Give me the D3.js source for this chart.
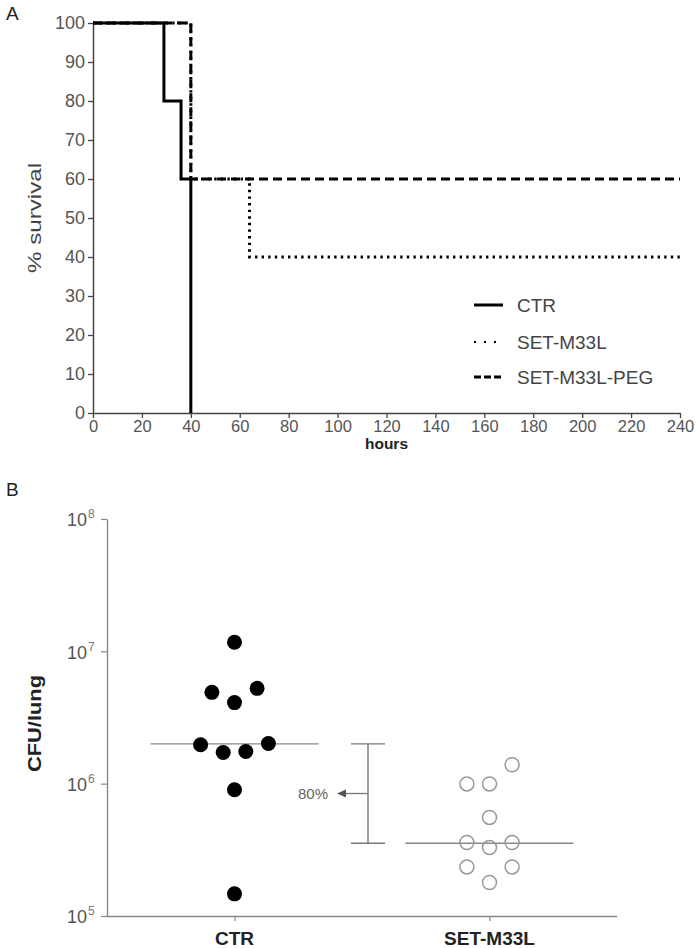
<!DOCTYPE html>
<html><head><meta charset="utf-8">
<script src="https://cdn.jsdelivr.net/npm/d3@7"></script>
<style>
html,body{margin:0;padding:0;background:#fff;}
svg{display:block;font-family:"Liberation Sans",Arial,sans-serif;}
</style></head>
<body>
<svg id="c" width="700" height="948"></svg>
<script>
// ---- Panel A data (Kaplan-Meier steps) ----
const ctrHours = [0, 29, 36, 40];
const ctrSurvival = [100, 80, 60, 0];
const setHours = [0, 40, 64, 240];
const setSurvival = [100, 60, 40, 40];
const pegHours = [0, 40, 240];
const pegSurvival = [100, 60, 60];
const seriesNames = ["CTR", "SET-M33L", "SET-M33L-PEG"];
const hourTicks = [0,20,40,60,80,100,120,140,160,180,200,220,240];
const survivalTicks = [0,10,20,30,40,50,60,70,80,90,100];

// ---- Panel B data (CFU/lung) ----
const groups = ["CTR", "SET-M33L"];
const ctrCFU = [1.17e7, 4.9e6, 4.1e6, 5.25e6, 1.97e6, 1.72e6, 1.75e6, 2.01e6, 9.0e5, 1.47e5];
const ctrSlot = [0, -2, 0, 2, -3, -1, 1, 3, 0, 0];
const setCFU = [1.39e6, 9.95e5, 9.95e5, 5.56e5, 3.59e5, 3.29e5, 3.59e5, 2.35e5, 2.35e5, 1.79e5];
const setSlot = [2, -2, 0, 0, -2, 0, 2, -2, 2, 0];
const medians = [2.0e6, 3.55e5];
const cfuTicks = [1e5, 1e6, 1e7, 1e8];
const reductionLabel = "80%";

const svg = d3.select("#c");

// ================= Panel A =================
const xA = d3.scaleLinear().domain([0, 240]).range([93, 680]);
const yA = d3.scaleLinear().domain([0, 100]).range([413, 23]);
const gA = svg.append("g");

svg.append("text").attr("x", 6).attr("y", 20).attr("font-size", 19).attr("fill", "#222").text("A");

const axA_x = gA.append("g").attr("transform", `translate(0,${yA(0)})`)
  .call(d3.axisBottom(xA).tickValues(hourTicks).tickSize(5).tickPadding(2).tickSizeOuter(0));
const axA_y = gA.append("g").attr("transform", `translate(${xA(0)},0)`)
  .call(d3.axisLeft(yA).tickValues(survivalTicks).tickSize(5).tickPadding(3).tickSizeOuter(0));
[axA_x, axA_y].forEach(a => {
  a.select(".domain").attr("stroke", "#444").attr("stroke-width", 1.5);
  a.selectAll(".tick line").attr("stroke", "#444").attr("stroke-width", 1.3);
  a.selectAll(".tick text").attr("fill", "#555").attr("font-size", 16.5)
    .attr("font-family", '"Liberation Sans",Arial,sans-serif');
});
axA_y.selectAll(".tick text").attr("font-size", 18);

gA.append("text").attr("x", xA(120)).attr("y", 449).attr("text-anchor", "middle")
  .attr("font-size", 15.5).attr("font-weight", "bold").attr("fill", "#222").text("hours");
gA.append("text").attr("transform", `translate(41,${yA(50)}) rotate(-90)`).attr("text-anchor", "middle")
  .attr("font-size", 19).attr("fill", "#444").attr("textLength", 110).attr("lengthAdjust", "spacingAndGlyphs")
  .text("% survival");

const stepLine = d3.line().curve(d3.curveStepAfter).x(d => xA(d[0])).y(d => yA(d[1]));
const styles = [
  {w: 3, dash: null},
  {w: 3, dash: "2.4,4.2"},
  {w: 3, dash: "9,5"}
];
const seriesData = [
  d3.zip(ctrHours, ctrSurvival),
  d3.zip(setHours, setSurvival),
  d3.zip(pegHours, pegSurvival)
];
[1, 2, 0].forEach(i => {
  gA.append("path").attr("d", stepLine(seriesData[i])).attr("fill", "none")
    .attr("stroke", "#000").attr("stroke-width", styles[i].w)
    .attr("stroke-dasharray", styles[i].dash);
});

// legend
const legY = [305, 342, 377];
seriesNames.forEach((n, i) => {
  gA.append("line").attr("x1", 474).attr("x2", 503).attr("y1", legY[i]).attr("y2", legY[i])
    .attr("stroke", "#000").attr("stroke-width", i === 1 ? 2.2 : styles[i].w)
    .attr("stroke-dasharray", styles[i].dash ? (i === 1 ? "2,8" : "7,3") : null);
  gA.append("text").attr("x", 517).attr("y", legY[i]).attr("dy", "0.35em")
    .attr("font-size", 19).attr("fill", "#444").text(n);
});

// ================= Panel B =================
const xB = d3.scalePoint().domain(groups).range([107, 617]).padding(0.5);
const yB = d3.scaleLog().domain([1e5, 1e8]).range([916, 519]);
const gB = svg.append("g");
svg.append("text").attr("x", 6).attr("y", 496).attr("font-size", 19).attr("fill", "#222").text("B");

const axB_y = gB.append("g").attr("transform", `translate(107,0)`)
  .call(d3.axisLeft(yB).tickValues(cfuTicks).tickSize(6).tickFormat(() => "").tickSizeOuter(0));
const axB_x = gB.append("g").attr("transform", `translate(0,916)`)
  .call(d3.axisBottom(xB).tickSize(5).tickFormat(() => "").tickSizeOuter(0));
[axB_x, axB_y].forEach(a => {
  a.select(".domain").attr("stroke", "#888").attr("stroke-width", 1.4);
  a.selectAll(".tick line").attr("stroke", "#888").attr("stroke-width", 1.2);
});
axB_x.select(".domain").attr("d", "M107,0.5H617");

// y tick labels 10^n
cfuTicks.forEach(t => {
  const e = Math.round(Math.log10(t));
  gB.append("text").attr("x", 87).attr("y", yB(t)).attr("dy", "0.4em")
    .attr("text-anchor", "end").attr("font-size", 18).attr("fill", "#555").text("10");
  gB.append("text").attr("x", 88).attr("y", yB(t)).attr("dy", "-0.05em")
    .attr("font-size", 12).attr("fill", "#777").text(e);
});

// x labels
groups.forEach(g => {
  gB.append("text").attr("x", xB(g)).attr("y", 945).attr("text-anchor", "middle")
    .attr("font-size", 19).attr("font-weight", "bold").attr("fill", "#222").text(g);
});

gB.append("text").attr("transform", `translate(41,${(yB(1e6)+yB(1e7))/2+6}) rotate(-90)`)
  .attr("text-anchor", "middle").attr("font-size", 18).attr("font-weight", "bold").attr("fill", "#222")
  .attr("textLength", 97).attr("lengthAdjust", "spacingAndGlyphs").text("CFU/lung");

// medians
const halfLen = 84, slotW = 11.3;
groups.forEach((g, i) => {
  gB.append("line").attr("x1", xB(g) - halfLen).attr("x2", xB(g) + halfLen)
    .attr("y1", yB(medians[i])).attr("y2", yB(medians[i]))
    .attr("stroke", "#888").attr("stroke-width", 1.4);
});

// points
gB.selectAll("circle.ctr").data(d3.zip(ctrCFU, ctrSlot)).join("circle").attr("class", "ctr")
  .attr("cx", d => xB("CTR") + d[1] * slotW).attr("cy", d => yB(d[0])).attr("r", 7.5).attr("fill", "#000");
gB.selectAll("circle.set").data(d3.zip(setCFU, setSlot)).join("circle").attr("class", "set")
  .attr("cx", d => xB("SET-M33L") + d[1] * slotW).attr("cy", d => yB(d[0])).attr("r", 7)
  .attr("fill", "none").attr("stroke", "#999").attr("stroke-width", 1.5);

// reduction bracket
const bx = (xB("CTR") + xB("SET-M33L")) / 2 + 6;
const y1 = yB(medians[0]), y2 = yB(medians[1]);
const ym = yB(Math.sqrt(medians[0] * medians[1]));
const bc = "#777";
gB.append("line").attr("x1", bx).attr("x2", bx).attr("y1", y1).attr("y2", y2).attr("stroke", bc).attr("stroke-width", 1.4);
[y1, y2].forEach(yy => gB.append("line").attr("x1", bx - 17).attr("x2", bx + 17).attr("y1", yy).attr("y2", yy)
  .attr("stroke", bc).attr("stroke-width", 1.4));
gB.append("line").attr("x1", bx).attr("x2", bx - 24).attr("y1", ym).attr("y2", ym).attr("stroke", bc).attr("stroke-width", 1.3);
gB.append("path").attr("d", `M${bx-31},${ym} L${bx-22},${ym-4} L${bx-22},${ym+4} Z`).attr("fill", "#555");
gB.append("text").attr("x", bx - 40).attr("y", ym).attr("dy", "0.35em").attr("text-anchor", "end")
  .attr("font-size", 15).attr("fill", "#666").text(reductionLabel);
</script>
</body></html>
